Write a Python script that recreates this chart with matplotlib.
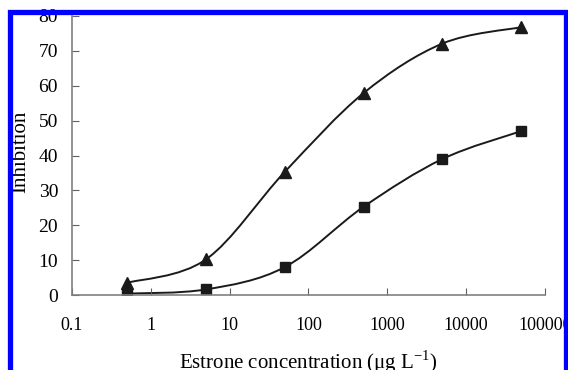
import matplotlib.pyplot as plt
import numpy as np
from matplotlib.path import Path
from matplotlib.patches import PathPatch, Rectangle

plt.rcParams['font.family'] = ['Liberation Serif', 'DejaVu Serif']

# concentration (ug/L) and inhibition (%)
conc = [0.5, 5, 50, 500, 5000, 50000]
inhib_tri = [3.5, 10.2, 35.3, 57.9, 72.1, 76.8]
inhib_sq = [0.4, 1.6, 8.0, 25.3, 39.0, 47.0]
xtick_vals = [0.1, 1, 10, 100, 1000, 10000, 100000]
xtick_labels = ['0.1', '1', '10', '100', '1000', '10000', '100000']


def smooth_path(xs, ys):
    # excel-like smoothed line: bezier segments, built in log-x space
    lx = np.log10(xs)
    ys = np.asarray(ys, dtype=float)
    n = len(lx)
    verts = [(xs[0], ys[0])]
    codes = [Path.MOVETO]
    for i in range(n - 1):
        i0 = max(i - 1, 0)
        i3 = min(i + 2, n - 1)
        c1x = lx[i] + (lx[i + 1] - lx[i0]) / 6
        c1y = ys[i] + (ys[i + 1] - ys[i0]) / 6
        c2x = lx[i + 1] - (lx[i3] - lx[i]) / 6
        c2y = ys[i + 1] - (ys[i3] - ys[i]) / 6
        verts += [(10 ** c1x, c1y), (10 ** c2x, c2y), (xs[i + 1], ys[i + 1])]
        codes += [Path.CURVE4] * 3
    return Path(verts, codes)


fig = plt.figure(figsize=(5.68, 3.70), dpi=100)
ax = fig.add_axes([72 / 568, 1 - 295 / 370, 473 / 568, 279 / 370])

for ys, mk, ms in [(inhib_tri, '^', 9), (inhib_sq, 's', 7)]:
    ax.add_patch(PathPatch(smooth_path(conc, ys), fill=False, ec='#1a1a1a', lw=1.4,
                           transform=ax.transData))
    ax.plot(conc, ys, ls='none', marker=mk, ms=ms, color='#1a1a1a')

ax.set_xscale('log')
ax.set_xlim(0.1, 100000)
ax.set_ylim(0, 80)
ax.set_xticks(xtick_vals)
ax.set_xticklabels(xtick_labels)
ax.minorticks_off()
ax.set_yticks(np.arange(0, 81, 10))

for s in ['top', 'right']:
    ax.spines[s].set_visible(False)
for s in ['left', 'bottom']:
    ax.spines[s].set_color('#808080')
    ax.spines[s].set_linewidth(1.2)

ax.tick_params(axis='x', direction='in', length=5, color='#606060', labelsize=13, pad=16)
ax.tick_params(axis='y', direction='in', length=5, color='#606060', labelsize=14, pad=10)

ax.set_xlabel('Estrone concentration (\u03bcg L$^{\\mathregular{-1}}$)', fontsize=15)
ax.xaxis.set_label_coords(0.5, -0.19)
ax.set_ylabel('Inhibition', fontsize=15)
ax.yaxis.set_label_coords(-0.088, 0.513)

# blue frame round the figure
fig.add_artist(Rectangle((9.5 / 568, -0.2), 556 / 568, 1.2 - 11.5 / 370,
                         transform=fig.transFigure, fill=False, ec='#0000ff',
                         lw=3.8, zorder=10, clip_on=False))

fig.savefig('out.png', dpi=100)
